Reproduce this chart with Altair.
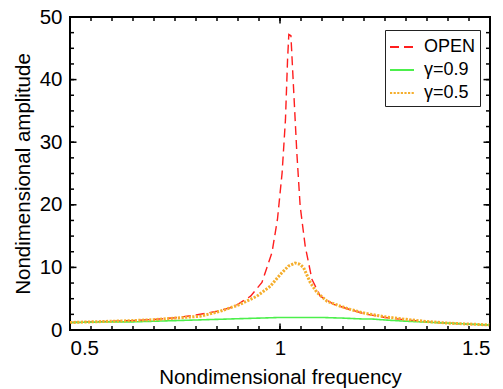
import altair as alt
import pandas as pd

# --- data ---
open_x = [0.5, 0.55, 0.6, 0.65, 0.7, 0.75, 0.8, 0.85, 0.89, 0.93, 0.957, 0.981, 0.994,
          1.005, 1.013, 1.018, 1.021, 1.026, 1.032, 1.040, 1.048, 1.060, 1.076, 1.096,
          1.128, 1.16, 1.2, 1.25, 1.3, 1.35, 1.4, 1.45, 1.5]
open_y = [1.2, 1.3, 1.4, 1.5, 1.7, 1.95, 2.4, 3.0, 3.7, 5.4, 7.6, 12.4, 17.7,
          25.1, 33.6, 43.2, 47.2, 47.0, 39.0, 28.4, 19.8, 13.4, 8.1, 5.4,
          4.1, 3.4, 2.6, 2.0, 1.6, 1.3, 1.1, 0.9, 0.8]

g09_x = [0.5, 0.55, 0.6, 0.65, 0.7, 0.75, 0.8, 0.85, 0.9, 0.95, 1.0, 1.05, 1.1,
         1.15, 1.2, 1.22, 1.25, 1.3, 1.35, 1.4, 1.45, 1.5]
g09_y = [1.2, 1.25, 1.3, 1.3, 1.4, 1.5, 1.6, 1.7, 1.8, 1.9, 2.0, 2.0, 2.0,
         1.9, 1.75, 1.75, 1.6, 1.4, 1.25, 1.1, 0.95, 0.8]

g05_x = [0.5, 0.55, 0.6, 0.65, 0.7, 0.75, 0.81, 0.858, 0.905, 0.945, 0.977, 1.001,
         1.02, 1.036, 1.047, 1.056, 1.072, 1.088, 1.112, 1.144, 1.167, 1.2, 1.25,
         1.3, 1.35, 1.4, 1.45, 1.5]
g05_y = [1.2, 1.3, 1.4, 1.5, 1.65, 1.9, 2.2, 3.0, 4.1, 5.4, 7.0, 8.9,
         10.2, 10.7, 10.5, 10.0, 7.6, 6.0, 4.6, 3.8, 3.3, 2.7, 2.1,
         1.7, 1.35, 1.1, 0.95, 0.8]

series_names = ["OPEN", "γ=0.9", "γ=0.5"]
series_colors = ["#FF1E1E", "#4CEF4C", "#F5AE2C"]
series_dash = [[9, 5], [1, 0], [2.2, 1.4]]
series_width = [1.4, 1.6, 3.0]

x_major = [0.5, 1.0, 1.5]
x_minor = [round(0.5 + 0.05 * i, 2) for i in range(21)]
y_major = [0, 10, 20, 30, 40, 50]
y_minor = [2.5 * i for i in range(21)]

W, H = 420, 313
FONT = "Liberation Sans"

rows = []
for name, xs, ys in [("OPEN", open_x, open_y), ("γ=0.9", g09_x, g09_y), ("γ=0.5", g05_x, g05_y)]:
    for xv, yv in zip(xs, ys):
        rows.append({"f": xv, "a": yv, "s": name})
df = pd.DataFrame(rows)

xscale = alt.Scale(domain=[0.5, 1.5], nice=False, zero=False)
yscale = alt.Scale(domain=[0, 50], nice=False, zero=False)

leg = alt.Legend(title=None, orient="none", legendX=315, legendY=13,
                 fillColor="white", strokeColor="#222", padding=4,
                 labelFont=FONT, labelFontSize=18, labelColor="black",
                 symbolType="stroke", symbolSize=576, symbolStrokeWidth=2,
                 rowPadding=1, labelOffset=9)

x_enc = alt.X("f:Q", scale=xscale,
              axis=alt.Axis(values=x_major, format="~g", ticks=False, tickSize=0, domain=False, grid=False,
                            labelFontSize=20.5, labelFont=FONT, labelColor="black", labelPadding=8,
                            title="Nondimensional frequency", titleFont=FONT, titleFontSize=20.5,
                            titleFontWeight="normal", titleColor="black", titlePadding=9))
y_enc = alt.Y("a:Q", scale=yscale,
              axis=alt.Axis(values=y_major, format="d", ticks=False, tickSize=0, domain=False, grid=False,
                            labelFontSize=20.5, labelFont=FONT, labelColor="black", labelPadding=8,
                            title="Nondimensional amplitude", titleFont=FONT, titleFontSize=20.5,
                            titleFontWeight="normal", titleColor="black", titlePadding=6))
c_enc = alt.Color("s:N", scale=alt.Scale(domain=series_names, range=series_colors), legend=leg)
d_enc = alt.StrokeDash("s:N", scale=alt.Scale(domain=series_names, range=series_dash), legend=leg)

line_layers = []
for name, w in zip(series_names, series_width):
    line_layers.append(
        alt.Chart(df).transform_filter(alt.datum.s == name)
        .mark_line(clip=True, strokeWidth=w)
        .encode(x=x_enc, y=y_enc, color=c_enc, strokeDash=d_enc)
    )

def xticks(vals, length):
    d = pd.DataFrame({"v": vals})
    bot = alt.Chart(d).mark_rule(color="black", strokeWidth=1.5).encode(
        x=alt.X("v:Q", scale=xscale), y=alt.value(H), y2=alt.value(H - length))
    top = alt.Chart(d).mark_rule(color="black", strokeWidth=1.5).encode(
        x=alt.X("v:Q", scale=xscale), y=alt.value(0), y2=alt.value(length))
    return bot + top

def yticks(vals, length):
    d = pd.DataFrame({"v": vals})
    left = alt.Chart(d).mark_rule(color="black", strokeWidth=1.5).encode(
        y=alt.Y("v:Q", scale=yscale), x=alt.value(0), x2=alt.value(length))
    right = alt.Chart(d).mark_rule(color="black", strokeWidth=1.5).encode(
        y=alt.Y("v:Q", scale=yscale), x=alt.value(W), x2=alt.value(W - length))
    return left + right

chart = alt.layer(
    *line_layers,
    xticks(x_minor, 4), xticks(x_major, 6.5),
    yticks(y_minor, 4), yticks(y_major, 6.5),
).properties(
    width=W, height=H,
    background="white",
    autosize=alt.AutoSizeParams(type="none"),
    padding={"left": 70, "top": 17, "right": 13, "bottom": 59},
).configure_view(
    stroke="black", strokeWidth=2
)

chart.save("out.html", embed_options={"renderer": "svg", "actions": False})
